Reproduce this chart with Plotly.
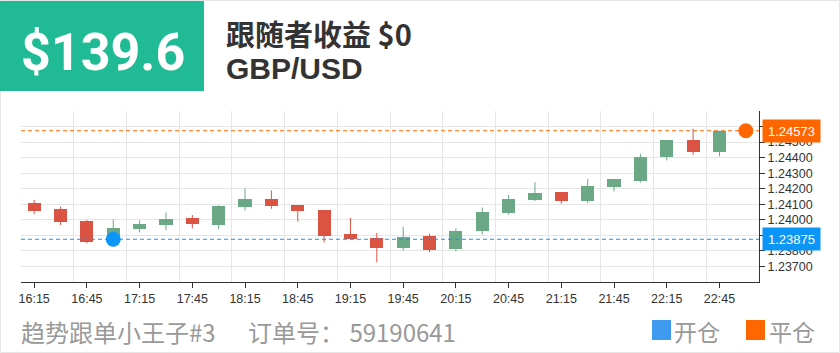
import plotly.graph_objects as go

# ---------------- data ----------------
times = ["16:15", "16:30", "16:45", "17:00", "17:15", "17:30", "17:45", "18:00",
         "18:15", "18:30", "18:45", "19:00", "19:15", "19:30", "19:45", "20:00",
         "20:15", "20:30", "20:45", "21:00", "21:15", "21:30", "21:45", "22:00",
         "22:15", "22:30", "22:45", "23:00"]

opens = [1.24111, 1.24069, 1.23990, 1.23868, 1.23940, 1.23967, 1.24010, 1.23965,
         1.24084, 1.24132, 1.24094, 1.24062, 1.23910, 1.23885, 1.23821, 1.23897,
         1.23811, 1.23925, 1.24041, 1.24128, 1.24177, 1.24122, 1.24212, 1.24251,
         1.24403, 1.24513, 1.24436]
highs = [1.24128, 1.24084, 1.23999, 1.24003, 1.23997, 1.24048, 1.24031, 1.24093,
         1.24202, 1.24189, 1.24095, 1.24063, 1.24012, 1.23916, 1.23955, 1.23910,
         1.23946, 1.24079, 1.24160, 1.24242, 1.24178, 1.24263, 1.24262, 1.24425,
         1.24513, 1.24586, 1.24573]
lows = [1.24037, 1.23967, 1.23849, 1.23852, 1.23919, 1.23933, 1.23944, 1.23940,
        1.24060, 1.24071, 1.23988, 1.23855, 1.23875, 1.23726, 1.23802, 1.23792,
        1.23798, 1.23906, 1.24033, 1.24120, 1.24103, 1.24107, 1.24182, 1.24240,
        1.24382, 1.24418, 1.24408]
closes = [1.24058, 1.23984, 1.23857, 1.23946, 1.23974, 1.24007, 1.23976, 1.24092,
          1.24132, 1.24090, 1.24056, 1.23897, 1.23876, 1.23821, 1.23891, 1.23804,
          1.23929, 1.24050, 1.24137, 1.24175, 1.24122, 1.24216, 1.24261, 1.24405,
          1.24513, 1.24436, 1.24573]

y_ticks = [1.237, 1.238, 1.239, 1.240, 1.241, 1.242, 1.243, 1.244, 1.245, 1.246]
y_hidden_labels = [1.239, 1.246]   # fully covered by the price tags
y_range = [1.236, 1.247]

open_idx, open_price = 3, 1.23875
close_idx, close_price = 27, 1.24573

profit_text = "$139.6"
follower_text = "跟随者收益 $0"
symbol_text = "GBP/USD"
trader_text = "趋势跟单小王子#3"
order_text = "订单号： 59190641"
legend_open = "开仓"
legend_close = "平仓"

# ---------------- style ----------------
UP = "#6aa886"
DOWN = "#db5443"
BLUE = "#0b96f7"
BLUE_LEG = "#3f9bf2"
ORANGE = "#ff6600"
GRID = "#e6e6e6"
AXIS = "#333333"
CJK = "Noto Sans CJK SC"

W, H = 840, 353
ML, MR, MT, MB = 21, 81, 111, 71
PW, PH = W - ML - MR, H - MT - MB


def xp(px):
    return (px - ML) / PW


def yp(py):
    return (H - MB - py) / PH


n = len(closes)
idx = list(range(n))
colors = [UP if c >= o else DOWN for o, c in zip(opens, closes)]

fig = go.Figure()

# candle bodies
fig.add_trace(go.Bar(
    x=idx,
    y=[abs(c - o) for o, c in zip(opens, closes)],
    base=[min(o, c) for o, c in zip(opens, closes)],
    width=0.5,
    marker=dict(color=colors, line=dict(width=0)),
    hoverinfo="skip",
    showlegend=False,
))

# wicks
for col in (UP, DOWN):
    wx, wy = [], []
    for i in idx:
        if colors[i] == col:
            wx += [i, i, None]
            wy += [lows[i], highs[i], None]
    fig.add_trace(go.Scatter(x=wx, y=wy, mode="lines",
                             line=dict(color=col, width=1),
                             hoverinfo="skip", showlegend=False))

# open / close markers
fig.add_trace(go.Scatter(x=[open_idx], y=[open_price], mode="markers",
                         marker=dict(size=15, color=BLUE), showlegend=False))
fig.add_trace(go.Scatter(x=[close_idx], y=[close_price], mode="markers",
                         marker=dict(size=15, color=ORANGE), showlegend=False))

shapes = [
    # card border
    dict(type="rect", xref="paper", yref="paper", x0=xp(0.5), x1=xp(839.5),
         y0=yp(352.5), y1=yp(0.5), line=dict(color=GRID, width=1), layer="below"),
    # header box
    dict(type="rect", xref="paper", yref="paper", x0=xp(0), x1=xp(204),
         y0=yp(91), y1=yp(1), fillcolor="#20bb94", line=dict(width=0), layer="below"),
    # dashed price lines
    dict(type="line", xref="paper", yref="y", x0=0, x1=1, y0=close_price, y1=close_price,
         line=dict(color=ORANGE, width=1, dash="4px,3px")),
    dict(type="line", xref="paper", yref="y", x0=0, x1=1, y0=open_price, y1=open_price,
         line=dict(color="#1a90f0", width=1, dash="4px,3px")),
    # legend squares
    dict(type="rect", xref="paper", yref="paper", x0=xp(652), x1=xp(671),
         y0=yp(340), y1=yp(320), fillcolor=BLUE_LEG, line=dict(width=0)),
    dict(type="rect", xref="paper", yref="paper", x0=xp(746), x1=xp(765),
         y0=yp(340), y1=yp(320), fillcolor=ORANGE, line=dict(width=0)),
]

annotations = [
    dict(text=profit_text, xref="paper", yref="paper", x=xp(103), y=yp(53),
         xanchor="center", yanchor="middle", showarrow=False,
         font=dict(family="Roboto", size=52, color="white", weight="bold")),
    dict(text=follower_text, xref="paper", yref="paper", x=xp(224), y=yp(33),
         xanchor="left", yanchor="middle", showarrow=False,
         font=dict(family=CJK, size=29, color="#333333", weight="bold")),
    dict(text=symbol_text, xref="paper", yref="paper", x=xp(224), y=yp(68),
         xanchor="left", yanchor="middle", showarrow=False,
         font=dict(family="Liberation Sans", size=30, color="#333333", weight="bold")),
    dict(text=trader_text, xref="paper", yref="paper", x=xp(19), y=yp(331),
         xanchor="left", yanchor="middle", showarrow=False,
         font=dict(family=CJK, size=24, color="#999999")),
    dict(text=order_text, xref="paper", yref="paper", x=xp(246), y=yp(331),
         xanchor="left", yanchor="middle", showarrow=False,
         font=dict(family=CJK, size=24, color="#999999")),
    dict(text=legend_open, xref="paper", yref="paper", x=xp(672), y=yp(331),
         xanchor="left", yanchor="middle", showarrow=False,
         font=dict(family=CJK, size=23, color="#999999")),
    dict(text=legend_close, xref="paper", yref="paper", x=xp(767), y=yp(331),
         xanchor="left", yanchor="middle", showarrow=False,
         font=dict(family=CJK, size=23, color="#999999")),
    # price labels on the y axis
    dict(text=f"{close_price:.5f}", xref="paper", yref="y", x=1, y=close_price,
         xanchor="left", yanchor="middle", xshift=3, showarrow=False,
         bgcolor=ORANGE, width=53, height=18, borderpad=2,
         font=dict(family="Liberation Sans", size=13, color="white")),
    dict(text=f"{open_price:.5f}", xref="paper", yref="y", x=1, y=open_price,
         xanchor="left", yanchor="middle", xshift=3, showarrow=False,
         bgcolor=BLUE, width=53, height=18, borderpad=2,
         font=dict(family="Liberation Sans", size=13, color="white")),
]

fig.update_layout(
    width=W, height=H,
    margin=dict(l=ML, r=MR, t=MT, b=MB, pad=0),
    paper_bgcolor="white", plot_bgcolor="white",
    showlegend=False,
    bargap=0,
    shapes=shapes,
    annotations=annotations,
    font=dict(family="Liberation Sans", color=AXIS, size=12),
)

fig.update_xaxes(
    range=[-0.5, len(times) - 0.5],
    tickmode="array",
    tickvals=idx[::2],
    ticktext=times[::2],
    ticks="outside", ticklen=5, tickcolor=AXIS, tickwidth=1,
    showline=True, linecolor=AXIS, linewidth=1,
    showgrid=False, zeroline=False,
    tickfont=dict(family="Liberation Sans", size=12.5, color=AXIS),
    minor=dict(tickmode="array",
               tickvals=[i - 0.5 for i in range(len(times) + 1) if i % 2 == 0],
               showgrid=True, gridcolor=GRID, gridwidth=1, ticks=""),
)

fig.update_yaxes(
    side="right",
    range=y_range,
    tickmode="array",
    tickvals=y_ticks,
    ticktext=["" if v in y_hidden_labels else f"{v:.5f}" for v in y_ticks],
    ticks="outside", ticklen=5, tickcolor=AXIS, tickwidth=1,
    showline=True, linecolor=AXIS, linewidth=1,
    showgrid=True, gridcolor=GRID, gridwidth=1, zeroline=False,
    tickfont=dict(family="Liberation Sans", size=12.5, color=AXIS),
    minor=dict(tickmode="array", tickvals=y_range,
               showgrid=True, gridcolor=GRID, gridwidth=1, ticks=""),
)

fig.write_html("out.html")
